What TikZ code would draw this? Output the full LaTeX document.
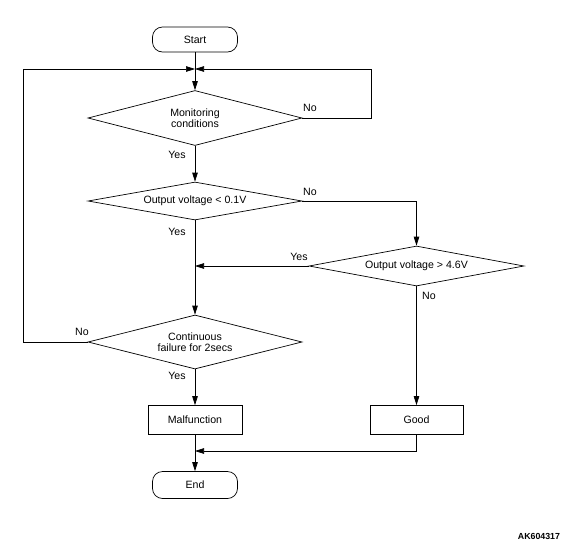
\documentclass[tikz,border=0pt]{standalone}
\usepackage{fontspec}
\setmainfont{Liberation Sans}
\usetikzlibrary{shapes.geometric,arrows.meta}
\begin{document}
\begin{tikzpicture}[x=1pt,y=-1pt,
  every node/.style={font=\fontsize{10.6}{10.8}\selectfont},
  line/.style={line width=0.7pt, draw=black},
  arr/.style={line, -{Triangle[length=9pt,width=5.5pt]}},
  term/.style={draw, line width=0.7pt, rounded corners=10pt, minimum width=85pt, minimum height=25pt, inner sep=0pt},
  proc/.style={draw, line width=0.7pt, minimum width=94pt, minimum height=29pt, inner sep=0pt},
  dec/.style={draw, diamond, line width=0.7pt, inner sep=0pt, align=center},
  lbl/.style={inner sep=0pt}
]
\useasboundingbox (0,0) rectangle (567,555);
\node[term] (start) at (195,39.5) {Start};
\coordinate (m1) at (195,69);
\coordinate (r1) at (371,69);
\coordinate (l1) at (23,69);
\node[dec, minimum width=214pt, minimum height=55pt, aspect=3.9] (d1) at (195,118) {Monitoring\\conditions};
\node[dec, minimum width=214pt, minimum height=38pt, aspect=5.6] (d2) at (195,201) {Output voltage < 0.1V};
\node[dec, minimum width=215pt, minimum height=40pt, aspect=5.4] (d3) at (416.5,266) {Output voltage > 4.6V};
\node[dec, minimum width=214pt, minimum height=54pt, aspect=3.9] (d4) at (195,342) {Continuous\\failure for 2secs};
\node[proc] (mal) at (195,420) {Malfunction};
\node[proc, minimum width=93pt] (good) at (416.5,420) {Good};
\coordinate (m2) at (195,451);
\node[term, minimum height=27pt] (end) at (195,485) {End};

\node[lbl] (n1) at (310,108) {No};
\node[lbl] (y1) at (177,155) {Yes};
\node[lbl] (n2) at (310,192) {No};
\node[lbl] (y2) at (177,232) {Yes};
\node[lbl] (y3) at (299,257) {Yes};
\node[lbl] (n3) at (429,296) {No};
\node[lbl] (n4) at (82,332) {No};
\node[lbl] (y4) at (177,376) {Yes};
\node[lbl, font=\fontsize{8.8}{10}\selectfont\bfseries] (code) at (539,536) {AK604317};

\draw[arr] (start) -- (d1);
\draw[arr] (d1.east) -| (r1) -- (m1);
\draw[arr] (d4.west) -| (l1) -- (m1);
\draw[arr] (d1) -- (d2);
\draw[arr] (d2.east) -| (d3.north);
\draw[arr] (d3.west) -- (d3.west -| d2.south);
\draw[arr] (d2) -- (d4);
\draw[arr] (d3) -- (good);
\draw[arr] (d4) -- (mal);
\draw[arr] (mal) -- (end);
\draw[arr] (good.south) |- (m2);
\end{tikzpicture}
\end{document}
